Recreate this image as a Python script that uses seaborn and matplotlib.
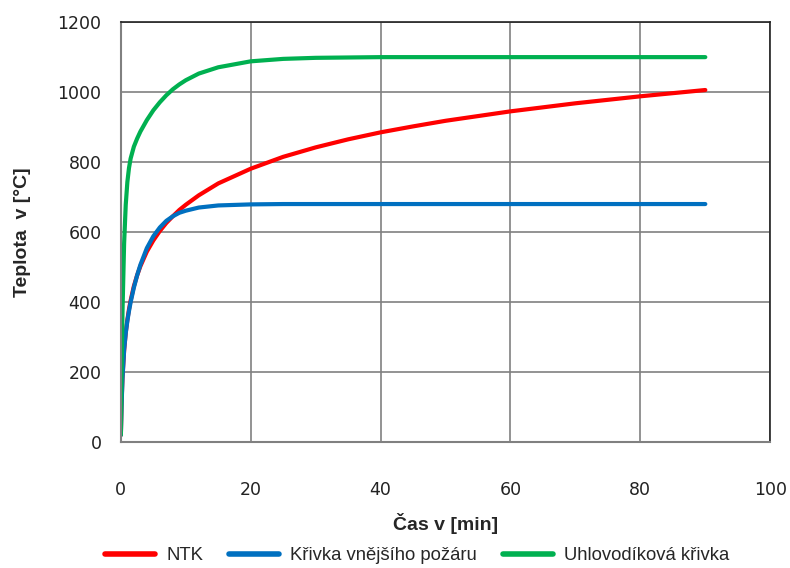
import matplotlib
matplotlib.use("Agg")
import matplotlib.pyplot as plt
import seaborn as sns
import pandas as pd

# time [min]
time_min = [0, 0.1, 0.25, 0.5, 0.75, 1, 1.25, 1.5, 2, 2.5, 3, 4, 5, 6, 7, 8, 9, 10, 12, 15, 20, 25, 30, 35, 40, 45, 50, 60, 70, 80, 90]
# NTK (standard temperature curve)
ntk = [20, 108, 185, 261, 312, 349, 379, 404, 445, 476, 502, 544, 576, 603, 626, 645, 663, 678, 705, 739, 781, 815, 842, 865, 885, 902, 918, 945, 968, 988, 1006]
# external fire curve
external = [20, 100, 182, 263, 311, 346, 374, 399, 441, 476, 506, 554, 588, 613, 632, 645, 655, 661, 670, 676, 679, 680, 680, 680, 680, 680, 680, 680, 680, 680, 680]
# hydrocarbon curve
hydrocarbon = [20, 187, 373, 568, 678, 743, 783, 810, 844, 867, 887, 920, 948, 971, 991, 1008, 1022, 1034, 1053, 1071, 1088, 1095, 1098, 1099, 1100, 1100, 1100, 1100, 1100, 1100, 1100]

series_names = ["NTK", "Křivka vnějšího požáru", "Uhlovodíková křivka"]
series_colors = ["#FF0000", "#0070C0", "#00B050"]
x_ticks = [0, 20, 40, 60, 80, 100]
y_ticks = [0, 200, 400, 600, 800, 1000, 1200]

df = pd.concat([
    pd.DataFrame({"t": time_min, "T": ntk, "s": series_names[0]}),
    pd.DataFrame({"t": time_min, "T": external, "s": series_names[1]}),
    pd.DataFrame({"t": time_min, "T": hydrocarbon, "s": series_names[2]}),
])

sns.set_style("white")
fig = plt.figure(figsize=(7.9, 5.68), dpi=100)
ax = fig.add_axes([0.153, 0.222, 0.822, 0.739])

sns.lineplot(data=df, x="t", y="T", hue="s", palette=dict(zip(series_names, series_colors)),
             linewidth=3, ax=ax, legend=False, sort=False, estimator=None)

ax.set_xlim(0, 100)
ax.set_ylim(0, 1200)
ax.set_xticks(x_ticks)
ax.set_yticks(y_ticks)
ax.grid(True, color="#808080", linewidth=1.2)
ax.set_axisbelow(True)
for side in ["left", "bottom"]:
    ax.spines[side].set_color("#808080")
    ax.spines[side].set_linewidth(1.5)
for side in ["top", "right"]:
    ax.spines[side].set_color("#222222")
    ax.spines[side].set_linewidth(1.2)
    ax.spines[side].set_visible(True)

ax.tick_params(axis="x", length=0, pad=28, labelsize=12.5, labelcolor="#222222")
ax.tick_params(axis="y", length=0, pad=14, labelsize=12.5, labelcolor="#222222")
for lab in ax.get_xticklabels() + ax.get_yticklabels():
    lab.set_fontfamily("DejaVu Sans")

ax.set_xlabel("Čas v [min]", fontfamily="Liberation Sans", fontweight="bold", fontsize=14, labelpad=10)
ax.set_ylabel("Teplota  v [°C]", fontfamily="Liberation Sans", fontweight="bold", fontsize=14, labelpad=19)

handles = [plt.Line2D([0], [0], color=c, linewidth=4) for c in series_colors]
fig.legend(handles, series_names, loc="center", bbox_to_anchor=(0.528, 0.022), ncol=3,
           frameon=False, handlelength=2.7, columnspacing=1.4, handletextpad=0.6,
           prop={"family": "Liberation Sans", "size": 13.3})

fig.savefig("out.png", dpi=100)
